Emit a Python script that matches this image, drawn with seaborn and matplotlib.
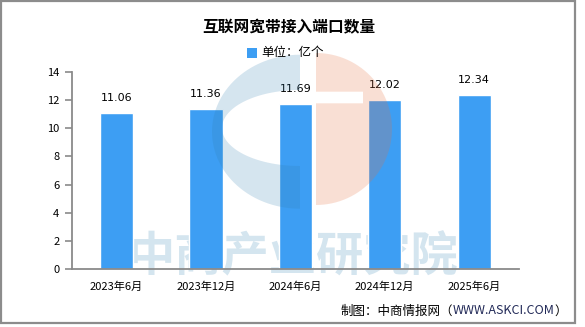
import numpy as np
import pandas as pd
import matplotlib
matplotlib.use("Agg")
import matplotlib.pyplot as plt
from matplotlib.patches import Polygon, Rectangle
import matplotlib.transforms as mtrans
import seaborn as sns

# ---- data ----
categories = ["2023年6月", "2023年12月", "2024年6月", "2024年12月", "2025年6月"]
values = [11.06, 11.36, 11.69, 12.02, 12.34]
title = "互联网宽带接入端口数量"
legend_label = "单位：亿个"
source_text = "制图：中商情报网（"
source_url = "WWW.ASKCI.COM"
source_end = "）"
watermark = "中商产业研究院"
yticks = [0, 2, 4, 6, 8, 10, 12, 14]

sns.set_theme(style="white")
plt.rcParams['font.family'] = ['Noto Sans CJK SC', 'DejaVu Sans']

W, H = 585, 327
fig = plt.figure(figsize=(W / 100, H / 100), dpi=100)
fig.patch.set_facecolor("white")

BAR = "#3d9ef3"
AXC = "#8a8a8a"

# background axes (watermark text behind bars)
bg = fig.add_axes([0, 0, 1, 1], zorder=0)
bg.set_xlim(0, W); bg.set_ylim(H, 0); bg.axis("off")
bg.text(293, 256, watermark, fontsize=34, fontweight="bold", color="#d4e5ef",
        ha="center", va="center")

# main axes
x0, x1 = 72, 518.7
y0, y1 = 269.3, 71.7
ax = fig.add_axes([x0 / W, (H - y0) / H, (x1 - x0) / W, (y0 - y1) / H], zorder=1)
ax.patch.set_visible(False)
df = pd.DataFrame({"cat": categories, "val": values})
sns.barplot(data=df, x="cat", y="val", color=BAR, saturation=1, width=0.37,
            ax=ax, label=legend_label, legend=False)
ax.set_xlim(-0.5, len(categories) - 0.5)
ax.set_ylim(0, 14)
ax.set_yticks(yticks)
ax.set_xlabel(""); ax.set_ylabel("")
for s in ["top", "right"]:
    ax.spines[s].set_visible(False)
for s in ["left", "bottom"]:
    ax.spines[s].set_color(AXC)
    ax.spines[s].set_linewidth(1.3)
ax.set_xticks(np.arange(len(categories)))
ax.set_xticklabels(categories)
ax.set_xticks(np.arange(-0.5, len(categories)), minor=True)
ax.tick_params(axis="x", which="major", length=0, pad=9, labelsize=8, labelcolor="black")
ax.tick_params(axis="x", which="minor", length=5, width=1.2, color=AXC, direction="out")
ax.tick_params(axis="y", length=5, width=1.2, color=AXC, direction="out",
               labelsize=8, labelcolor="black", pad=4, left=True)
for p, v in zip(ax.patches, values):
    ax.text(p.get_x() + p.get_width() / 2, v + 0.7, f"{v:.2f}", ha="center",
            va="bottom", fontsize=8, color="black", family=["DejaVu Sans"])

# overlay axes: logo watermark, titles, legend, footer
ov = fig.add_axes([0, 0, 1, 1], zorder=2)
ov.set_xlim(0, W); ov.set_ylim(H, 0); ov.axis("off")
ov.patch.set_visible(False)

# blue C-shape
cx, cy, rx, ry = 300, 131.7, 88, 77
t = np.linspace(np.pi / 2, 3 * np.pi / 2, 60)
outer = np.column_stack([cx + rx * np.cos(t), cy - ry * np.sin(t)])
hcx, hcy, hrx, hry = 300, 128, 78, 38
t2 = np.linspace(3 * np.pi / 2, np.pi / 2, 60)
inner = np.column_stack([hcx + hrx * np.cos(t2), hcy - hry * np.sin(t2)])
blue_poly = np.vstack([outer, inner])
ov.add_patch(Polygon(blue_poly, closed=True, facecolor="#2f7fb0", alpha=0.2,
                     edgecolor="none"))
# peach half disc with slit
pcx, pcy, pr = 316, 129, 76
t3 = np.linspace(np.pi / 2, -np.pi / 2, 60)
arc = np.column_stack([pcx + pr * np.cos(t3), pcy - pr * np.sin(t3)])
slit = np.array([[316, 103.3], [363, 103.3], [363, 91.7], [316, 91.7]])
peach_poly = np.vstack([arc, slit])
ov.add_patch(Polygon(peach_poly, closed=True, facecolor="#e8703f", alpha=0.22,
                     edgecolor="none"))

# title
ov.text(288.5, 27, title, fontsize=11.3, fontweight="bold", ha="center", va="center",
        color="black")
# legend
ov.add_patch(Rectangle((247.3, 48.3), 9.4, 9.2, facecolor=BAR, edgecolor="none"))
ov.text(261, 52.6, legend_label, fontsize=9, ha="left", va="center", color="black")
# footer
FY = 311
tx = ov.text(567, FY, source_end, fontsize=9, ha="right", va="center", color="black")
fig.canvas.draw()
r = fig.canvas.get_renderer()
bb = tx.get_window_extent(r)
tu = ov.text(bb.x0, H - FY, source_url, fontsize=9, ha="right", va="center",
             color="#222a58", transform=mtrans.IdentityTransform())
bb2 = tu.get_window_extent(r)
ov.text(bb2.x0, H - FY, source_text, fontsize=9, ha="right", va="center",
        color="black", transform=mtrans.IdentityTransform())

# border
ov.add_patch(Rectangle((0.8, 0.8), 574.5, 322, facecolor="none",
                       edgecolor="#8c8c8c", linewidth=1.6))

fig.savefig("out.png", dpi=100, facecolor="white")
